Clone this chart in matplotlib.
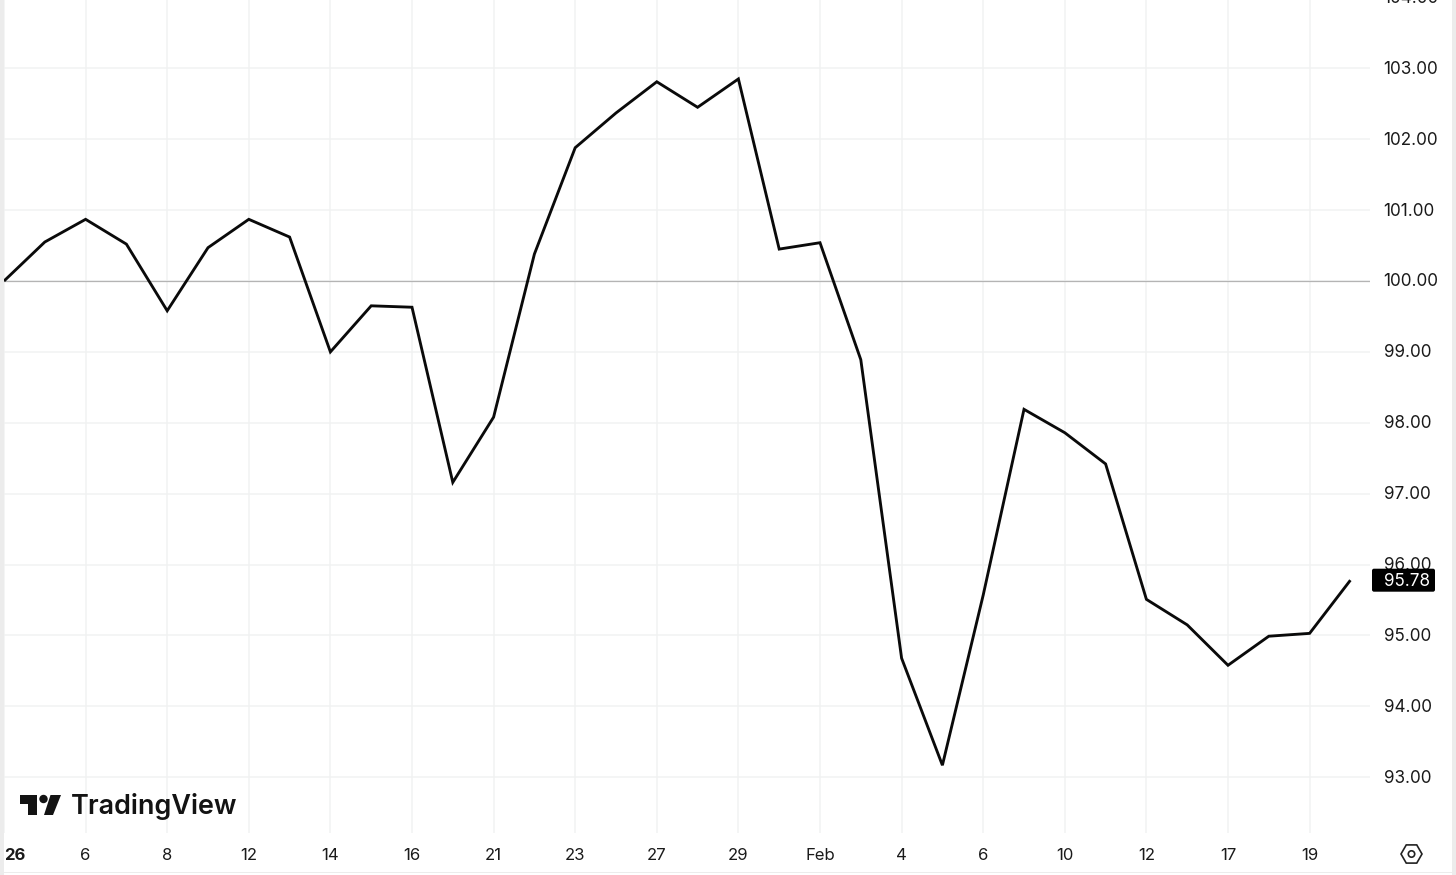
import matplotlib
matplotlib.use("Agg")
import matplotlib.pyplot as plt
from matplotlib.patches import Circle, FancyBboxPatch, Polygon, RegularPolygon, Rectangle
from matplotlib.transforms import Affine2D

plt.rcParams["font.family"] = ["Inter", "DejaVu Sans"]

# value per session
values = [100.00, 100.55, 100.87, 100.52, 99.58, 100.47, 100.87, 100.62, 99.00, 99.65,
          99.63, 97.16, 98.08, 100.38, 101.88, 102.37, 102.81, 102.45, 102.85, 100.45,
          100.54, 98.89, 94.68, 93.17, 95.57, 98.19, 97.86, 97.42, 95.51, 95.15,
          94.58, 94.99, 95.03, 95.78]
x_tick_pos = list(range(0, 33, 2))
x_tick_labels = ["26", "6", "8", "12", "14", "16", "21", "23", "27", "29", "Feb",
                 "4", "6", "10", "12", "17", "19"]
y_ticks = [93, 94, 95, 96, 97, 98, 99, 100, 101, 102, 103, 104]
last_price = values[-1]
baseline = 100.0

W, H = 1456, 875
fig = plt.figure(figsize=(W / 100, H / 100), dpi=100, facecolor="white")
ax = fig.add_axes([4 / W, (H - 833) / H, 1366 / W, 833 / H])
ax.set_xlim(0, 1366 / 40.8)
ax.set_ylim(100 - 552 / 70.9, 100 + 281 / 70.9)
for spine in ax.spines.values():
    spine.set_visible(False)

GRID = "#f1f2f2"
TEXT = "#1a1a1a"
ax.set_xticks(x_tick_pos)
ax.set_yticks([t for t in y_ticks if t != 104])
ax.grid(True, color=GRID, linewidth=1.1)
ax.set_axisbelow(True)
ax.tick_params(length=0, labelbottom=False, labelleft=False)

ax.axhline(baseline, color="#b4b4b4", linewidth=0.9, zorder=1)
ax.plot(range(len(values)), values, color="#0a0a0a", linewidth=2.05, solid_joinstyle="miter",
        solid_capstyle="butt", zorder=3)

# axis text lives in pixel positions relative to the scales
xt = ax.get_xaxis_transform()
px = Affine2D().scale(1 / W, -1 / H).translate(0, 1) + fig.transFigure
yt = ax.get_yaxis_transform() + Affine2D().translate(0, -1)
for pos, lab in zip(x_tick_pos, x_tick_labels):
    if lab == "26":
        fig.text(14.5 / W, 1 - 856 / H, lab, ha="center", va="center", fontsize=12,
                 fontweight="bold", color=TEXT)
    else:
        ax.text(pos, 1 - 856 / 833, lab, transform=xt, ha="center", va="center", fontsize=12,
                color=TEXT, clip_on=False)
LABEL_X = 1 + 13.5 / 1366
for t in y_ticks:
    ax.text(LABEL_X, t, f"{t:.2f}", transform=yt, ha="left", va="center", fontsize=12.3,
            color=TEXT, clip_on=False)

# last price tag
y_tag = H - ax.transData.transform((0, last_price))[1]
ax.add_artist(FancyBboxPatch((1374, y_tag - 9.5), 59, 19, boxstyle="round,pad=2,rounding_size=2",
                             transform=px, facecolor="black", edgecolor="none", zorder=5,
                             clip_on=False))
ax.text(LABEL_X, last_price, f"{last_price:.2f}", transform=yt, ha="left", va="center",
        fontsize=12.3, color="white", clip_on=False, zorder=6)

# TradingView logo
LOGO = "#131313"
fig.add_artist(Polygon([(20, 795), (37, 795), (37, 815), (27.5, 815), (27.5, 804), (20, 804)],
                       transform=px, facecolor=LOGO, edgecolor="none"))
fig.add_artist(Circle((43.5, 799), 4.2, transform=px, facecolor=LOGO, edgecolor="none"))
fig.add_artist(Polygon([(50.5, 795), (61, 795), (53, 815), (44, 815)],
                       transform=px, facecolor=LOGO, edgecolor="none"))
fig.text(70.5 / W, 1 - 807 / H, "TradingView", ha="left", va="center", fontsize=19.4,
         fontweight="semibold", color=LOGO)

# settings hexagon, bottom right
fig.add_artist(RegularPolygon((1411.5, 854), 6, radius=10.5, orientation=0.5236, transform=px,
                              facecolor="none", edgecolor="#222222", linewidth=1.2))
fig.add_artist(Circle((1411.5, 854), 3.2, transform=px, facecolor="none", edgecolor="#222222",
                      linewidth=1.2))

# window edges from the screenshot
fig.add_artist(Rectangle((0, 0), 4, H, transform=px, facecolor="#ececec", edgecolor="none"))
fig.add_artist(Rectangle((1452, 0), 4, H, transform=px, facecolor="#ececec", edgecolor="none"))
fig.add_artist(Rectangle((4, 872), 1448, 1.2, transform=px, facecolor="#ececec", edgecolor="none"))

fig.savefig("out.png", dpi=100, facecolor="white")
plt.close(fig)
